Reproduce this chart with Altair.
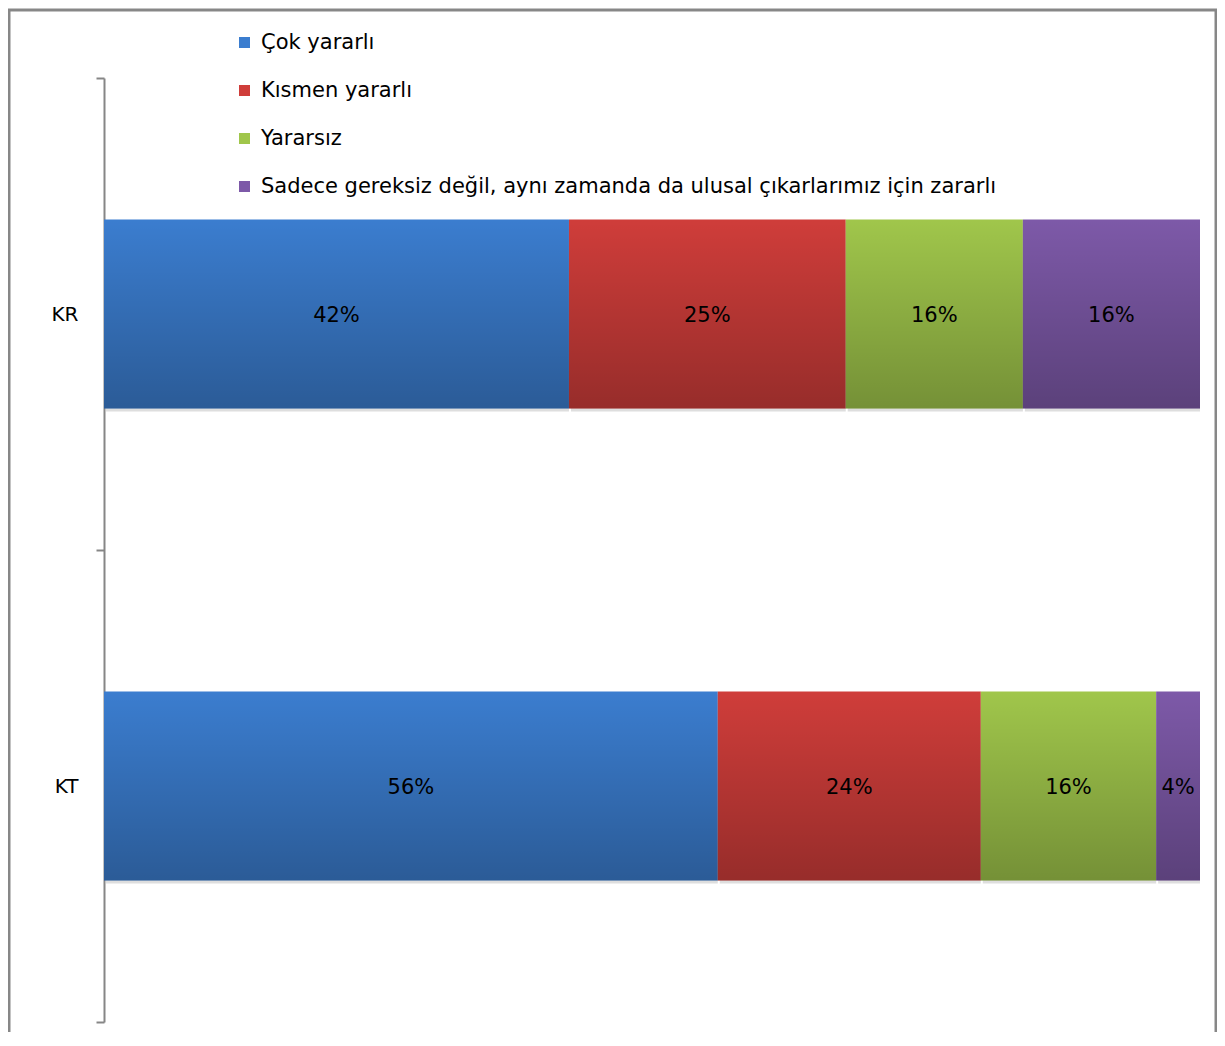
import altair as alt
import pandas as pd

groups = ["KR", "KT"]
series = [
    "Çok yararlı",
    "Kısmen yararlı",
    "Yararsız",
    "Sadece gereksiz değil, aynı zamanda da ulusal çıkarlarımız için zararlı",
]
kr_values = [42, 25, 16, 16]
kt_values = [56, 24, 16, 4]
colors = ["#3b7dcf", "#cf3d3a", "#a0c64b", "#7d59a8"]

rows = []
for g, vals in zip(groups, [kr_values, kt_values]):
    for i, (s, v) in enumerate(zip(series, vals)):
        rows.append({"grp": g, "series": s, "value": v, "order": i})
df = pd.DataFrame(rows)

FONT = "DejaVu Sans"

base = alt.Chart(df).transform_stack(
    stack="value", groupby=["grp"], as_=["x0", "x1"], offset="normalize",
    sort=[alt.SortField("order", order="ascending")]
).transform_calculate(
    mid="(datum.x0 + datum.x1) / 2",
    label="datum.value + '%'"
)

yenc = alt.Y(
    "grp:N", sort=groups, title=None,
    scale=alt.Scale(paddingInner=0, paddingOuter=0),
    axis=alt.Axis(
        domainColor="#868686", domainWidth=2, tickColor="#868686", tickWidth=2,
        tickSize=8, tickBand="extent", labelPadding=18, labelFontSize=20,
        labelFont=FONT, labelColor="#000000", grid=False,
    ),
)
xscale = alt.Scale(domain=[0, 1], nice=False)
BAND = {"band": 0.4}

shadow = base.mark_bar(color="#bdbdbd", opacity=0.5, yOffset=3, xOffset=2,
                       height=BAND).encode(
    x=alt.X("x0:Q", scale=xscale, axis=None), x2="x1:Q", y=yenc
)

bars = base.mark_bar(strokeWidth=0, height=BAND).encode(
    x=alt.X("x0:Q", scale=xscale, axis=None),
    x2="x1:Q",
    y=yenc,
    color=alt.Color(
        "series:N", sort=series,
        scale=alt.Scale(domain=series, range=colors),
        legend=alt.Legend(
            title=None, orient="none", legendX=130, legendY=-46, padding=0,
            symbolType="square", symbolSize=121, symbolStrokeWidth=0,
            labelFontSize=21, labelFont=FONT, labelColor="#000000",
            labelOffset=6, rowPadding=26, labelLimit=900,
        ),
    ),
)

shade = base.mark_bar(
    fill=alt.Gradient(
        gradient="linear", x1=0, y1=0, x2=0, y2=1,
        stops=[
            alt.GradientStop(offset=0, color="rgba(0,0,0,0)"),
            alt.GradientStop(offset=1, color="rgba(0,0,0,0.27)"),
        ],
    ),
    strokeWidth=0,
    height=BAND,
).encode(x=alt.X("x0:Q", scale=xscale, axis=None), x2="x1:Q", y=yenc)

text = base.mark_text(fontSize=21, font=FONT, color="#000000", dy=2).encode(
    x=alt.X("mid:Q", scale=xscale, axis=None), y=yenc, text="label:N"
)

frame = alt.Chart(pd.DataFrame({"a": [0]})).mark_rect(
    fill=None, stroke="#878787", strokeWidth=3
).encode(
    x=alt.value(-95), x2=alt.value(1112), y=alt.value(-68), y2=alt.value(1100)
)

chart = alt.layer(frame, shadow, bars, shade, text).properties(
    width=1096, height=944,
    autosize=alt.AutoSizeParams(type="none"),
    padding={"left": 96, "top": 70, "right": 17, "bottom": 10},
).configure_view(stroke=None)

chart.save("out.html", embed_options={"renderer": "svg", "actions": False})
